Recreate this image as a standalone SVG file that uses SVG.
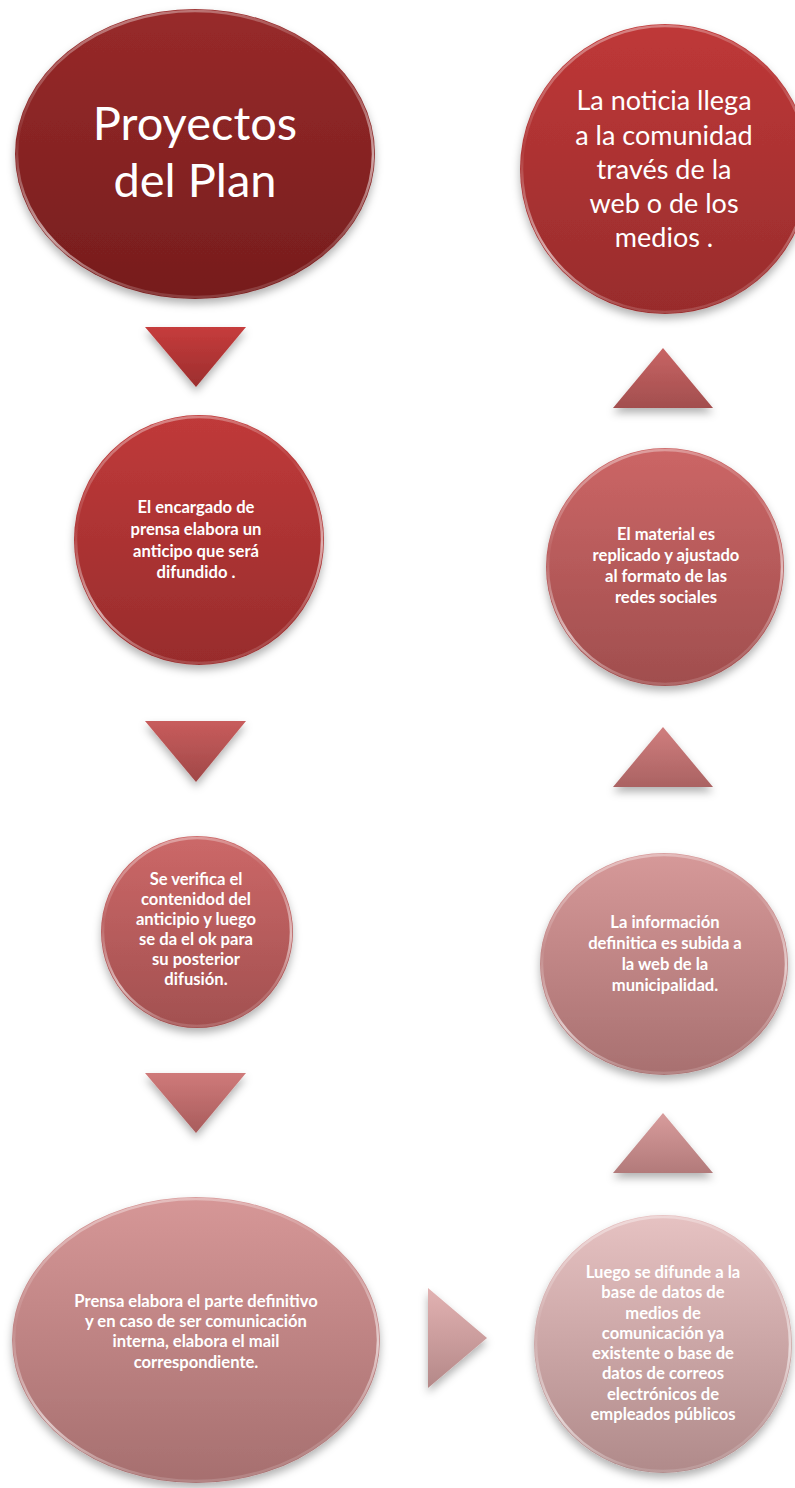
<svg xmlns="http://www.w3.org/2000/svg" width="795" height="1488" viewBox="0 0 795 1488">
<style>
.t{font-family:Lato,"Liberation Sans",sans-serif;fill:#ffffff;text-anchor:middle}
.big{font-size:47px}
.mid{font-size:27px}
.sm{font-size:16.6px;font-weight:bold}
.rim{fill:none;stroke:url(#rim);stroke-width:2.5}
</style>
<defs>
<filter id="sh" x="-20%" y="-20%" width="140%" height="150%"><feDropShadow dx="0" dy="5" stdDeviation="4" flood-color="#000" flood-opacity="0.3"/></filter>
<linearGradient id="rim" x1="0" y1="0" x2="0.3" y2="1"><stop offset="0" stop-color="#fff" stop-opacity="0.5"/><stop offset="0.4" stop-color="#fff" stop-opacity="0.05"/><stop offset="0.75" stop-color="#fff" stop-opacity="0.6"/><stop offset="1" stop-color="#fff" stop-opacity="0.15"/></linearGradient>
<linearGradient id="g1" x1="0" y1="0" x2="0" y2="1"><stop offset="0" stop-color="#982a2a"/><stop offset="1" stop-color="#761d1d"/></linearGradient>
<linearGradient id="g2" x1="0" y1="0" x2="0" y2="1"><stop offset="0" stop-color="#bf3838"/><stop offset="1" stop-color="#982c2c"/></linearGradient>
<linearGradient id="g3" x1="0" y1="0" x2="0" y2="1"><stop offset="0" stop-color="#c03a3a"/><stop offset="1" stop-color="#982c2c"/></linearGradient>
<linearGradient id="g4" x1="0" y1="0" x2="0" y2="1"><stop offset="0" stop-color="#cc6666"/><stop offset="1" stop-color="#a04e4e"/></linearGradient>
<linearGradient id="g5" x1="0" y1="0" x2="0" y2="1"><stop offset="0" stop-color="#cc6868"/><stop offset="1" stop-color="#a25050"/></linearGradient>
<linearGradient id="g6" x1="0" y1="0" x2="0" y2="1"><stop offset="0" stop-color="#d69999"/><stop offset="1" stop-color="#a87070"/></linearGradient>
<linearGradient id="g7" x1="0" y1="0" x2="0" y2="1"><stop offset="0" stop-color="#d69797"/><stop offset="1" stop-color="#a66f6f"/></linearGradient>
<linearGradient id="g8" x1="0" y1="0" x2="0" y2="1"><stop offset="0" stop-color="#e6c2c2"/><stop offset="1" stop-color="#b08a8a"/></linearGradient>
<linearGradient id="a1" x1="0" y1="0" x2="0" y2="1"><stop offset="0" stop-color="#c63c3c"/><stop offset="1" stop-color="#9c2e2e"/></linearGradient>
<linearGradient id="a2" x1="0" y1="0" x2="0" y2="1"><stop offset="0" stop-color="#c85c5c"/><stop offset="1" stop-color="#a04848"/></linearGradient>
<linearGradient id="a3" x1="0" y1="0" x2="0" y2="1"><stop offset="0" stop-color="#cf7a7a"/><stop offset="1" stop-color="#a85c5c"/></linearGradient>
<linearGradient id="a4" x1="0" y1="0" x2="0" y2="1"><stop offset="0" stop-color="#e2b2b2"/><stop offset="1" stop-color="#b48888"/></linearGradient>
<linearGradient id="a5" x1="0" y1="0" x2="0" y2="1"><stop offset="0" stop-color="#d89c9c"/><stop offset="1" stop-color="#b27a7a"/></linearGradient>
<linearGradient id="a6" x1="0" y1="0" x2="0" y2="1"><stop offset="0" stop-color="#d07e7e"/><stop offset="1" stop-color="#aa6262"/></linearGradient>
<linearGradient id="a7" x1="0" y1="0" x2="0" y2="1"><stop offset="0" stop-color="#c86464"/><stop offset="1" stop-color="#a24e4e"/></linearGradient>
</defs>
<rect width="795" height="1488" fill="#ffffff"/>
<g id="connectors" filter="url(#sh)">
<polygon points="145,327 246,327 196,387" fill="url(#a1)"/>
<polygon points="145,721 246,721 196,782" fill="url(#a2)"/>
<polygon points="145,1073 246,1073 196,1133" fill="url(#a3)"/>
<polygon points="428,1288 487,1338 428,1388" fill="url(#a4)"/>
<polygon points="663,1113 713,1173 613,1173" fill="url(#a5)"/>
<polygon points="663,727 713,787 613,787" fill="url(#a6)"/>
<polygon points="663,348 713,408 613,408" fill="url(#a7)"/>
</g>
<g id="n1">
<ellipse cx="195" cy="154" rx="180" ry="145" fill="url(#g1)" filter="url(#sh)"/>
<ellipse cx="195" cy="154" rx="178" ry="143" class="rim"/>
<text class="t big" x="195" y="140">Proyectos</text>
<text class="t big" x="195" y="197">del Plan</text>
</g>
<g id="n2">
<circle cx="665" cy="169" r="145" fill="url(#g2)" filter="url(#sh)"/>
<circle cx="665" cy="169" r="143" class="rim"/>
<text class="t mid" x="664" y="110">La noticia  llega</text>
<text class="t mid" x="664" y="145">a la comunidad</text>
<text class="t mid" x="664" y="179">través de la</text>
<text class="t mid" x="664" y="213">web o de los</text>
<text class="t mid" x="664" y="247">medios .</text>
</g>
<g id="n3">
<circle cx="199" cy="540" r="125" fill="url(#g3)" filter="url(#sh)"/>
<circle cx="199" cy="540" r="123" class="rim"/>
<text class="t sm" x="196" y="513">El encargado de</text>
<text class="t sm" x="196" y="535">prensa elabora un</text>
<text class="t sm" x="196" y="557">anticipo que será</text>
<text class="t sm" x="196" y="578">difundido .</text>
</g>
<g id="n4">
<circle cx="665" cy="567" r="119" fill="url(#g4)" filter="url(#sh)"/>
<circle cx="665" cy="567" r="117" class="rim"/>
<text class="t sm" x="666" y="540">El material es</text>
<text class="t sm" x="666" y="561">replicado y ajustado</text>
<text class="t sm" x="666" y="582">al formato de las</text>
<text class="t sm" x="666" y="603">redes sociales</text>
</g>
<g id="n5">
<circle cx="197" cy="932" r="96" fill="url(#g5)" filter="url(#sh)"/>
<circle cx="197" cy="932" r="94" class="rim"/>
<text class="t sm" x="196" y="885">Se verifica el</text>
<text class="t sm" x="196" y="905">contenidod del</text>
<text class="t sm" x="196" y="925">anticipio y luego</text>
<text class="t sm" x="196" y="945">se da el ok para</text>
<text class="t sm" x="196" y="965">su posterior</text>
<text class="t sm" x="196" y="985">difusión.</text>
</g>
<g id="n6">
<ellipse cx="664" cy="964" rx="124" ry="111" fill="url(#g6)" filter="url(#sh)"/>
<ellipse cx="664" cy="964" rx="122" ry="109" class="rim"/>
<text class="t sm" x="665" y="928">La información</text>
<text class="t sm" x="665" y="949">definitica es subida a</text>
<text class="t sm" x="665" y="970">la web de la</text>
<text class="t sm" x="665" y="991">municipalidad.</text>
</g>
<g id="n7">
<ellipse cx="196" cy="1340" rx="184" ry="143" fill="url(#g7)" filter="url(#sh)"/>
<ellipse cx="196" cy="1340" rx="182" ry="141" class="rim"/>
<text class="t sm" x="196" y="1307">Prensa elabora el parte definitivo</text>
<text class="t sm" x="196" y="1327">y en caso de ser comunicación</text>
<text class="t sm" x="196" y="1347">interna, elabora el mail</text>
<text class="t sm" x="196" y="1368">correspondiente.</text>
</g>
<g id="n8">
<circle cx="663" cy="1344" r="129" fill="url(#g8)" filter="url(#sh)"/>
<circle cx="663" cy="1344" r="127" class="rim"/>
<text class="t sm" x="663" y="1278">Luego se difunde a la</text>
<text class="t sm" x="663" y="1298">base de datos de</text>
<text class="t sm" x="663" y="1319">medios de</text>
<text class="t sm" x="663" y="1339">comunicación ya</text>
<text class="t sm" x="663" y="1359">existente o base de</text>
<text class="t sm" x="663" y="1379">datos de correos</text>
<text class="t sm" x="663" y="1400">electrónicos de</text>
<text class="t sm" x="663" y="1420">empleados públicos</text>
</g>
</svg>
